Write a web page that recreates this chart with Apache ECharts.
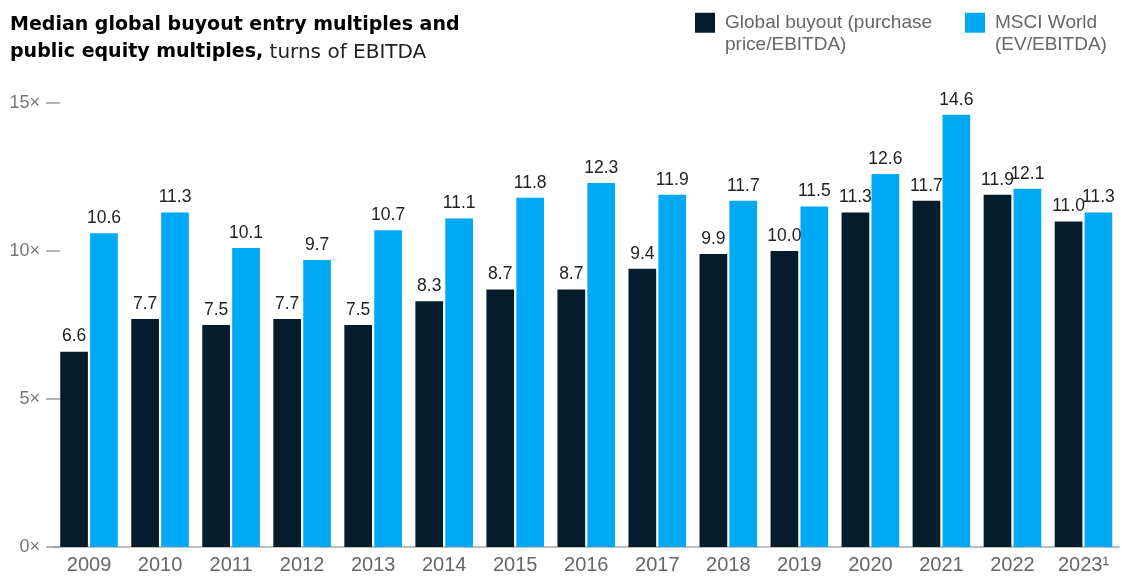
<!DOCTYPE html>
<html><head><meta charset="utf-8">
<script src="https://cdn.jsdelivr.net/npm/echarts@6/dist/echarts.min.js"></script>
<style>html,body{margin:0;padding:0;background:#fff}#c{width:1124px;height:576px}</style>
</head><body><div id="c"></div>
<script>
const years = ['2009','2010','2011','2012','2013','2014','2015','2016','2017','2018','2019','2020','2021','2022','2023\u00B9'];
const buyout = [6.6,7.7,7.5,7.7,7.5,8.3,8.7,8.7,9.4,9.9,10.0,11.3,11.7,11.9,11.0];
const msci = [10.6,11.3,10.1,9.7,10.7,11.1,11.8,12.3,11.9,11.7,11.5,12.6,14.6,12.1,11.3];
const yTicks = [0,5,10,15];
const seriesNames = ['Global buyout (purchase\nprice/EBITDA)','MSCI World\n(EV/EBITDA)'];

const FONT = '"Liberation Sans", Arial, sans-serif';
const TFONT = '"DejaVu Sans", sans-serif';
const chart = echarts.init(document.getElementById('c'), null, {renderer:'canvas'});
const labelCfg = {
  show:true, position:'top', distance:6, color:'#222', fontSize:17.5, fontFamily:FONT,
  formatter: p => p.value.toFixed(1)
};
chart.setOption({
  animation:false,
  textStyle:{fontFamily:FONT},
  title:{
    left:5, top:7,
    text:'{b|Median global buyout entry multiples and}\n{b|public equity multiples,}{n| turns of EBITDA}',
    textStyle:{
      rich:{
        b:{fontSize:19, fontWeight:'bold', color:'#000', fontFamily:TFONT, lineHeight:27},
        n:{fontSize:20, fontWeight:'normal', color:'#222', fontFamily:TFONT, lineHeight:27}
      }
    }
  },
  legend:{
    left:695, top:-11, padding:0, itemGap:33,
    itemWidth:20, itemHeight:20, icon:'rect',
    data:seriesNames,
    formatter: n => '\n' + n,
    textStyle:{color:'#666', fontSize:19, fontFamily:FONT, lineHeight:22.5, padding:[0,0,0,5]}
  },
  grid:{left:53.5, right:5, top:103, bottom:29},
  xAxis:{
    type:'category', data:years,
    axisLine:{lineStyle:{color:'#aaa', width:1.5}},
    axisTick:{show:false},
    axisLabel:{color:'#666', fontSize:20, margin:8, fontFamily:FONT}
  },
  yAxis:{
    type:'value', min:0, max:15, interval:5, offset:7.5,
    axisLine:{show:false},
    axisTick:{show:true, inside:true, length:14, lineStyle:{color:'#999', width:1.5}},
    splitLine:{show:false},
    axisLabel:{color:'#777', fontSize:18, margin:6, fontFamily:FONT,
      formatter: v => yTicks.includes(v) ? v + '\u00D7' : ''}
  },
  series:[
    {name:seriesNames[0], type:'bar', data:buyout, barWidth:27.7, barGap:'8%',
     itemStyle:{color:'#051C2C'}, label:labelCfg},
    {name:seriesNames[1], type:'bar', data:msci, barWidth:27.7, barGap:'8%',
     itemStyle:{color:'#00A9F4'}, label:labelCfg}
  ]
});
</script></body></html>
